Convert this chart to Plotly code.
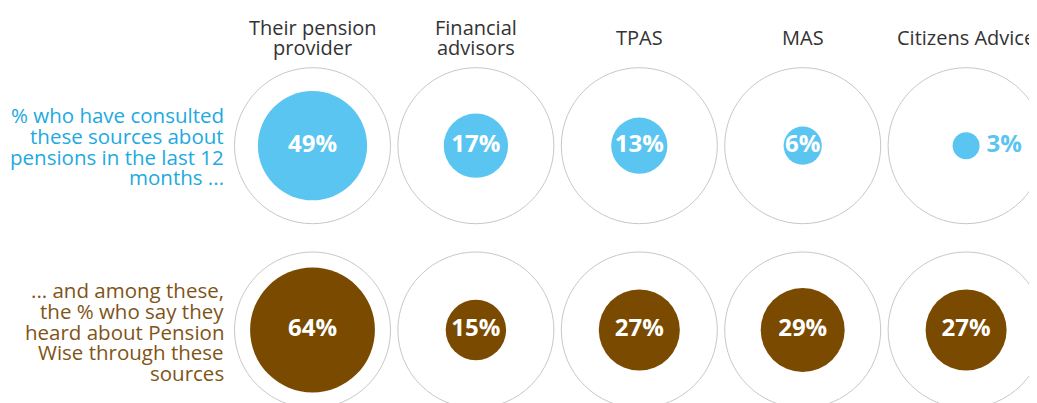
import plotly.graph_objects as go
import math

# ---- data ----
sources = ["Their pension provider", "Financial advisors", "TPAS", "MAS", "Citizens Advice"]
source_lines = [["Their pension", "provider"], ["Financial", "advisors"], ["TPAS"], ["MAS"], ["Citizens Advice"]]
consulted = [49, 17, 13, 6, 3]
heard_pw = [64, 15, 27, 29, 27]
row_labels = [
    ["% who have consulted", "these sources about", "pensions in the last 12", "months ..."],
    ["... and among these,", "the % who say they", "heard about Pension", "Wise through these", "sources"],
]

# ---- styling ----
OFF = 8  # default page body margin
W, H = 1037 - OFF, 403 - OFF
BLUE = "#5bc5f2"
BROWN = "#7a4a00"
BLUE_TXT = "#22a9e1"
BROWN_TXT = "#7f5417"
OUTER_D = 156  # px diameter of the 100% circle
FONT = "Open Sans"

# pixel mapping for axes (pixels measured in the page, shifted by the body margin)
x0_px, dx_px = 312.5 - OFF, 163.4
y0_px, dy_px = 145.7 - OFF, 184.3
xa = -x0_px / dx_px
xb = xa + W / dx_px
ya = -y0_px / dy_px
yb = ya + H / dy_px


def py(pixel_y):
    return ya + (pixel_y - OFF) / dy_px


def px(pixel_x):
    return xa + (pixel_x - OFF) / dx_px


fig = go.Figure()
xs = list(range(len(sources)))

for r, (vals, fill) in enumerate([(consulted, BLUE), (heard_pw, BROWN)]):
    # outer reference circles (100%)
    fig.add_trace(go.Scatter(
        x=xs, y=[r] * len(xs), mode="markers",
        marker=dict(size=OUTER_D, color="white", opacity=1, line=dict(color="#c8c8c8", width=1)),
        hoverinfo="skip", showlegend=False,
    ))
    sizes = [OUTER_D * math.sqrt(v / 100) for v in vals]
    inside = [s >= 30 for s in sizes]
    fig.add_trace(go.Scatter(
        x=xs, y=[r] * len(xs), mode="markers+text",
        marker=dict(size=sizes, color=fill, opacity=1, line=dict(width=0)),
        text=[f"{v}%" if ins else "" for v, ins in zip(vals, inside)],
        textposition="middle center",
        textfont=dict(family=FONT, size=24, color="white", weight="bold"),
        hovertext=[f"{s}: {v}%" for s, v in zip(sources, vals)],
        hoverinfo="text", showlegend=False,
    ))
    # small-value labels placed to the right of the dot
    small_x = [x for x, ins in zip(xs, inside) if not ins]
    small_v = [v for v, ins in zip(vals, inside) if not ins]
    if small_x:
        fig.add_trace(go.Scatter(
            x=small_x, y=[r] * len(small_x), mode="markers+text",
            marker=dict(size=[OUTER_D * math.sqrt(v / 100) + 4 for v in small_v],
                        color="rgba(0,0,0,0)", opacity=1),
            text=[f"{v}%" for v in small_v],
            textposition="middle right",
            textfont=dict(family=FONT, size=24, color=fill, weight="bold"),
            hoverinfo="skip", showlegend=False,
        ))

annotations = []
# column headers
for i, lines in enumerate(source_lines):
    n = len(lines)
    for k, line in enumerate(lines):
        yc = 27 + k * 20 if n == 2 else 37
        annotations.append(dict(
            x=i, y=py(yc), xref="x", yref="y", text=line, showarrow=False,
            xanchor="center", yanchor="middle",
            font=dict(family=FONT, size=20, color="#333333"),
        ))
# row labels
row_starts = [115, 290]
row_colors = [BLUE_TXT, BROWN_TXT]
for r, lines in enumerate(row_labels):
    for k, line in enumerate(lines):
        annotations.append(dict(
            x=px(226), y=py(row_starts[r] + k * 20.8), xref="x", yref="y",
            text=line, showarrow=False, xanchor="right", yanchor="middle",
            font=dict(family=FONT, size=20.5, color=row_colors[r]),
        ))

fig.update_layout(
    width=W, height=H,
    margin=dict(l=0, r=0, t=0, b=0),
    paper_bgcolor="white", plot_bgcolor="white",
    xaxis=dict(range=[xa, xb], visible=False, fixedrange=True),
    yaxis=dict(range=[yb, ya], visible=False, fixedrange=True),
    annotations=annotations,
    showlegend=False,
)

fig.write_html("out.html")
